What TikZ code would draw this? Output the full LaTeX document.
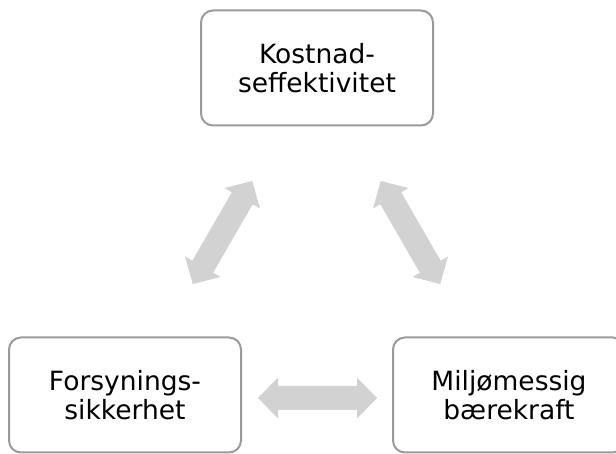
\documentclass[tikz,border=0pt]{standalone}
\usepackage{fontspec}
\setmainfont{DejaVu Sans}
\definecolor{boxline}{HTML}{9A9A9A}
\definecolor{arrowfill}{HTML}{D2D2D2}
\tikzset{
  box/.style={draw=boxline, line width=2pt, rounded corners=12pt, fill=white,
    minimum width=232pt, minimum height=115pt, align=center, inner sep=0pt,
    font=\fontsize{26.5}{29}\selectfont},
  dblarrow/.pic={
    \fill[arrowfill] (-59.5,0) -- (-39.5,20.5) -- (-39.5,12) -- (39.5,12) -- (39.5,20.5)
      -- (59.5,0) -- (39.5,-20.5) -- (39.5,-12) -- (-39.5,-12) -- (-39.5,-20.5) -- cycle;
  }
}
\begin{document}
\begin{tikzpicture}[x=1pt,y=1pt]
\useasboundingbox (0,0) rectangle (616,454);
\node[box] (top) at (317,386) {Kostnad-\\seffektivitet};
\node[box] (left) at (125,59) {Forsynings-\\sikkerhet};
\node[box] (right) at (509,59) {Miljømessig\\bærekraft};
\pic (arrL) at (222.5,221.5) [rotate=60] {dblarrow};
\pic (arrR) at (410.5,221.5) [rotate=-60] {dblarrow};
\pic (arrB) at (317.5,56) {dblarrow};
\end{tikzpicture}
\end{document}
